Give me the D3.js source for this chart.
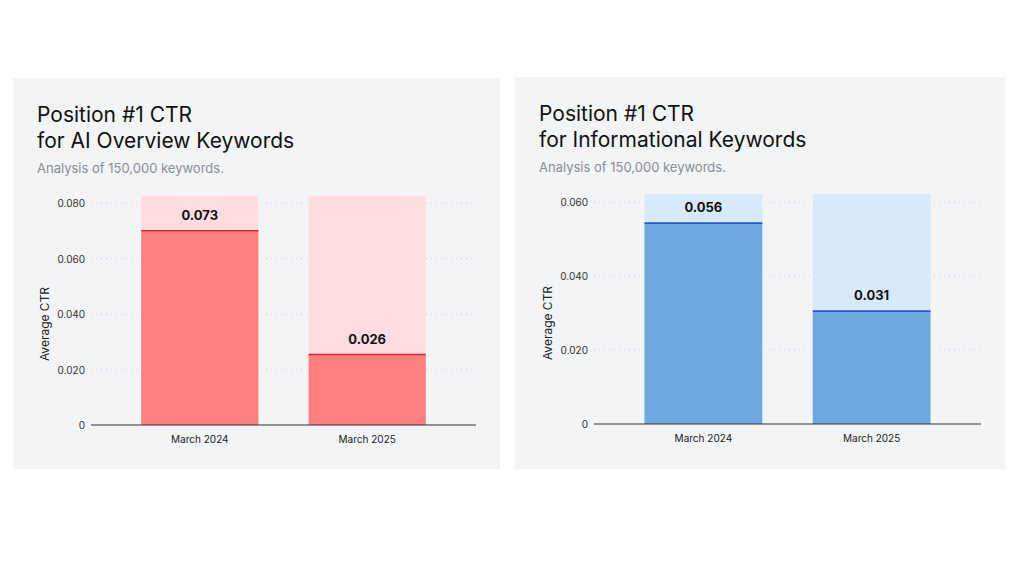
<!DOCTYPE html>
<html><head><meta charset="utf-8">
<script src="https://cdn.jsdelivr.net/npm/d3@7"></script>
<style>body{margin:0;background:#fff;font-family:Inter,"Noto Sans",sans-serif}</style>
</head><body><svg id="c" width="1024" height="576"></svg>
<script>
// data
const categories = ["March 2024", "March 2025"];
const aiLabels = ["0.073", "0.026"];
const aiBars   = [0.0700, 0.0254];   // bar heights as drawn
const aiBand   = 0.0826;
const aiTicks  = [0, 0.02, 0.04, 0.06, 0.08];
const infoLabels = ["0.056", "0.031"];
const infoBars   = [0.0543, 0.0305];
const infoBand   = 0.0622;
const infoTicks  = [0, 0.02, 0.04, 0.06];

const svg = d3.select("#c");
const fmt = v => v === 0 ? "0" : d3.format(".3f")(v);

function panel(o) {
  svg.append("rect").attr("x", o.px).attr("y", o.py).attr("width", o.pw).attr("height", o.ph).attr("fill", "#f3f4f6");
  const g = svg.append("g");
  o.title.forEach((t, i) => g.append("text").attr("x", o.px + 24).attr("y", o.py + 44 + i * 26)
    .attr("font-size", 21).attr("fill", "#111").text(t));
  g.append("text").attr("x", o.px + 24).attr("y", o.py + 95).attr("font-size", 13).attr("fill", "#8a8d93")
    .text("Analysis of 150,000 keywords.");

  const y = d3.scaleLinear().domain([0, o.tickMax]).range([o.y0, o.yTop]);
  const x = d3.scaleBand().domain(categories).range([o.x0, o.x1]).paddingInner(0.3).paddingOuter(0.3);

  o.ticks.forEach(t => {
    if (t > 0) g.append("line").attr("x1", o.x0).attr("x2", o.x1).attr("y1", y(t)).attr("y2", y(t))
      .attr("stroke", "#cfd2d6").attr("stroke-dasharray", "1,4");
    g.append("text").attr("x", o.x0 - 6).attr("y", y(t) + 4).attr("text-anchor", "end")
      .attr("font-size", 10).attr("fill", "#333").text(fmt(t));
  });

  categories.forEach((c, i) => {
    g.append("rect").attr("x", x(c)).attr("width", x.bandwidth()).attr("y", y(o.band))
      .attr("height", y(0) - y(o.band)).attr("fill", o.light);
    g.append("rect").attr("x", x(c)).attr("width", x.bandwidth()).attr("y", y(o.bars[i]))
      .attr("height", y(0) - y(o.bars[i])).attr("fill", o.main);
    g.append("line").attr("x1", x(c)).attr("x2", x(c) + x.bandwidth()).attr("y1", y(o.bars[i])).attr("y2", y(o.bars[i]))
      .attr("stroke", o.edge).attr("stroke-width", 1.6);
    g.append("text").attr("x", x(c) + x.bandwidth() / 2).attr("y", y(o.bars[i]) - 11).attr("text-anchor", "middle")
      .attr("font-size", 13).attr("font-weight", "bold").attr("fill", "#111").text(o.labels[i]);
    g.append("text").attr("x", x(c) + x.bandwidth() / 2).attr("y", o.y0 + 18).attr("text-anchor", "middle")
      .attr("font-size", 10).attr("fill", "#222").text(c);
  });

  g.append("line").attr("x1", o.x0).attr("x2", o.x1).attr("y1", o.y0).attr("y2", o.y0).attr("stroke", "#333").attr("stroke-width", 1.2);
  g.append("text").attr("transform", `translate(${o.x0 - 42},${(o.y0 + o.yTop) / 2 + 10}) rotate(-90)`)
    .attr("text-anchor", "middle").attr("font-size", 12).attr("fill", "#222").text("Average CTR");
}

panel({ px: 13, py: 78, pw: 487, ph: 391, title: ["Position #1 CTR", "for AI Overview Keywords"],
  x0: 91, x1: 476, y0: 425, yTop: 203, tickMax: 0.08, ticks: aiTicks, band: aiBand, bars: aiBars, labels: aiLabels,
  main: "#ff7f7f", light: "#ffdcdf", edge: "#d92b2b" });
panel({ px: 515, py: 77, pw: 490, ph: 392, title: ["Position #1 CTR", "for Informational Keywords"],
  x0: 594, x1: 981, y0: 424, yTop: 202, tickMax: 0.06, ticks: infoTicks, band: infoBand, bars: infoBars, labels: infoLabels,
  main: "#6aa8df", light: "#d8e9f9", edge: "#2456d8" });
</script></body></html>
